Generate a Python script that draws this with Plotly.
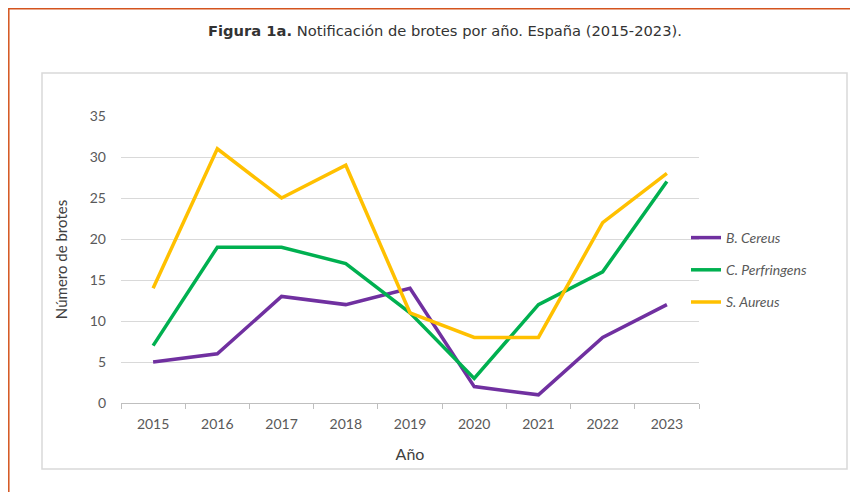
import plotly.graph_objects as go

years = ["2015", "2016", "2017", "2018", "2019", "2020", "2021", "2022", "2023"]
b_cereus = [5, 6, 13, 12, 14, 2, 1, 8, 12]
c_perfringens = [7, 19, 19, 17, 11, 3, 12, 16, 27]
s_aureus = [14, 31, 25, 29, 11, 8, 8, 22, 28]
series_names = ["B. Cereus", "C. Perfringens", "S. Aureus"]
colors = ["#7030A0", "#00B050", "#FFC000"]

# page body has an 8px margin; figure sized to fill the remaining window
OFF = 8
W, H = 858 - OFF, 492 - OFF
# plot area in screen pixels
L, R, T, B = 121, 699, 116, 403


def px(x):
    return (x - L) / (R - L)


def py(y):
    return (B - y) / (B - T)


fig = go.Figure()
for i, (name, vals) in enumerate(zip(series_names, [b_cereus, c_perfringens, s_aureus])):
    fig.add_trace(go.Scatter(
        x=years, y=vals, mode="lines", name=name, legendgroup=name,
        line=dict(color=colors[i], width=3.5),
    ))

fig.update_layout(
    width=W, height=H,
    margin=dict(l=L - OFF, r=W - (R - OFF), t=T - OFF, b=H - (B - OFF)),
    paper_bgcolor="white", plot_bgcolor="white",
    font=dict(family="Lato", color="#595959"),
    showlegend=True,
    legend=dict(
        x=px(686), y=py(222), xanchor="left", yanchor="top",
        font=dict(size=14, color="#595959", family="Lato", style="italic"),
        traceorder="grouped", tracegroupgap=11,
        bgcolor="rgba(0,0,0,0)",
    ),
    xaxis=dict(
        type="category", tickson="boundaries", ticks="outside", ticklen=5,
        range=[-0.5, 8.5],
        tickcolor="#BFBFBF", showline=True, linecolor="#BFBFBF", linewidth=1,
        showgrid=False, tickfont=dict(size=14, color="#595959"),
        ticklabelstandoff=8,
        title=dict(text="Año", font=dict(size=16, color="#404040"), standoff=18),
    ),
    yaxis=dict(
        range=[0, 35], dtick=5, showgrid=True, gridcolor="#D9D9D9", gridwidth=1,
        zeroline=False, showline=False, ticks="",
        tickfont=dict(size=14, color="#595959"), ticklabelstandoff=14,
        title=dict(text="Número de brotes", font=dict(size=15, color="#404040"), standoff=18),
    ),
)

# inner chart frame
fig.add_shape(type="rect", xref="paper", yref="paper",
              x0=px(42), x1=px(847), y0=py(73), y1=py(469),
              line=dict(color="#D9D9D9", width=1.5), layer="below")
# orange outer border
fig.add_shape(type="path", xref="paper", yref="paper",
              path=f"M {px(8.8)} {py(500)} L {px(8.8)} {py(8.8)} L {px(870)} {py(8.8)}",
              line=dict(color="#D4541E", width=1.5))

fig.add_annotation(
    xref="paper", yref="paper", x=px(445), y=py(30), xanchor="center", yanchor="middle",
    text="<b>Figura 1a.</b> Notificación de brotes por año. España (2015-2023).",
    showarrow=False, font=dict(size=14.7, color="#333333", family="DejaVu Sans"),
)

fig.write_html("out.html")
